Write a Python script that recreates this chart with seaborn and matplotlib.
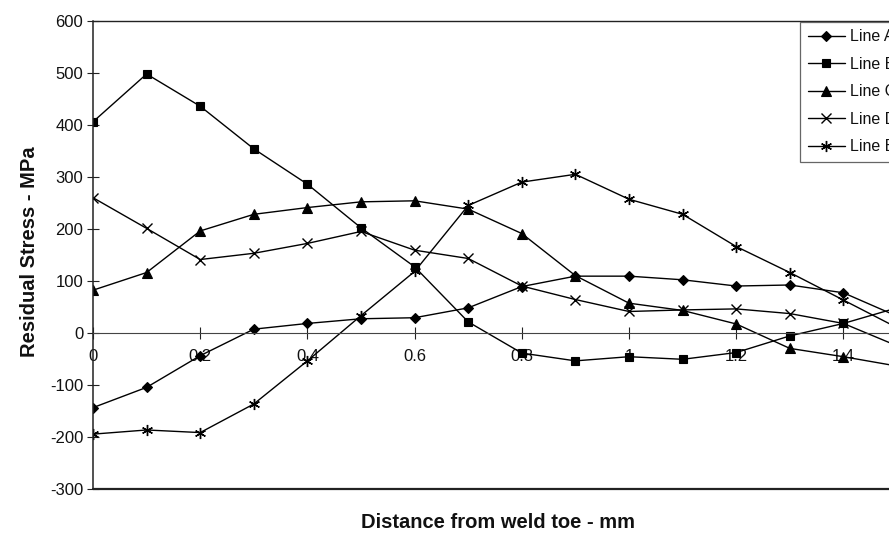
import matplotlib
matplotlib.use("Agg")
import matplotlib.pyplot as plt
import seaborn as sns
import numpy as np
import pandas as pd
from matplotlib.ticker import FuncFormatter

# ---- data ----
distance = [0.0, 0.1, 0.2, 0.3, 0.4, 0.5, 0.6, 0.7, 0.8, 0.9, 1.0, 1.1, 1.2, 1.3, 1.4, 1.5]
line_a = [-144, -105, -44, 7, 18, 27, 29, 48, 89, 109, 109, 102, 90, 92, 77, 32]
line_b = [406, 498, 436, 354, 286, 202, 127, 21, -39, -54, -46, -51, -38, -6, 18, 48]
line_c = [82, 116, 196, 228, 241, 252, 254, 238, 191, 110, 57, 43, 17, -30, -46, -64]
line_d = [260, 201, 141, 153, 172, 195, 159, 143, 90, 64, 41, 44, 46, 37, 18, -25]
line_e = [-195, -187, -192, -137, -54, 33, 118, 245, 290, 305, 257, 228, 166, 116, 63, 10]
series_names = ["Line A", "Line B", "Line C", "Line D", "Line E"]
y_ticks = [-300, -200, -100, 0, 100, 200, 300, 400, 500, 600]
x_ticks = [0, 0.2, 0.4, 0.6, 0.8, 1.0, 1.2, 1.4]

df = pd.DataFrame({"x": distance, "Line A": line_a, "Line B": line_b,
                   "Line C": line_c, "Line D": line_d, "Line E": line_e})

sns.set_theme(style="white")
plt.rcParams["font.family"] = ["Liberation Sans", "DejaVu Sans"]

W, H = 889, 536
fig = plt.figure(figsize=(W / 100, H / 100), dpi=100)
left_px, top_px, bottom_px = 93, 21, 488.7
right_px = 93 + 1.6 * 536
ax = fig.add_axes([left_px / W, 1 - bottom_px / H,
                   (right_px - left_px) / W, (bottom_px - top_px) / H])

styles = {
    "Line A": dict(marker="D", markersize=5.5, mfc="black", mec="black", mew=0.8),
    "Line B": dict(marker="s", markersize=5.5, mfc="black", mec="black", mew=0.8),
    "Line C": dict(marker="^", markersize=6.5, mfc="black", mec="black", mew=0.8),
    "Line D": dict(marker="x", markersize=7.5, mfc="black", mec="black", mew=1.0),
    "Line E": dict(marker=(6, 2, 0), markersize=8, mfc="black", mec="black", mew=1.0),
}
for name in series_names:
    sns.lineplot(data=df, x="x", y=name, ax=ax, color="black", linewidth=1.0,
                 label=name, **styles[name])

ax.set_xlim(0, 1.6)
ax.set_ylim(-300, 600)
ax.set_yticks(y_ticks)
ax.set_xticks(x_ticks)
ax.yaxis.set_major_formatter(FuncFormatter(lambda v, p: f"{int(v)}"))
ax.xaxis.set_major_formatter(FuncFormatter(lambda v, p: f"{v:g}"))

# zero axis as the x axis
for s in ["left", "bottom", "top", "right"]:
    ax.spines[s].set_color("#222222")
    ax.spines[s].set_linewidth(1.1)
ax.spines["bottom"].set_position(("data", 0))
ax.spines["bottom"].set_linewidth(0.8)
ax.spines["bottom"].set_color("#444444")
ax.axhline(ax.get_ylim()[0], color="#222222", lw=1.6, clip_on=False)
ax.spines["top"].set_linewidth(1.0)

ax.tick_params(axis="y", direction="inout", length=8, width=0.8, color="#222222",
               labelsize=12, pad=3, left=True, colors="#111111")
ax.tick_params(axis="x", direction="inout", length=8, width=0.8, color="#222222",
               labelsize=12, pad=8, bottom=True, colors="#111111")
ax.set_zorder(1)

ax.set_xlabel("")
ax.set_ylabel("")
fig.text(30 / W, 1 - 252 / H, "Residual Stress - MPa", rotation=90, ha="center",
         va="center", fontsize=14.5, fontweight="bold", color="#111111")
fig.text(498 / W, 1 - 522 / H, "Distance from weld toe - mm", ha="center",
         va="center", fontsize=14.5, fontweight="bold", color="#111111")

leg = ax.legend(loc="upper left", bbox_to_anchor=(800 / W, 1 - 21.5 / H),
                bbox_transform=fig.transFigure, fontsize=11.5, frameon=True,
                fancybox=False, edgecolor="#666666", framealpha=1,
                handlelength=2.3, handletextpad=0.3, labelspacing=0.78,
                borderpad=0.5, borderaxespad=0)
leg.get_frame().set_linewidth(0.9)
for t in leg.get_texts():
    t.set_color("#111111")

fig.savefig("out.png", dpi=100)
